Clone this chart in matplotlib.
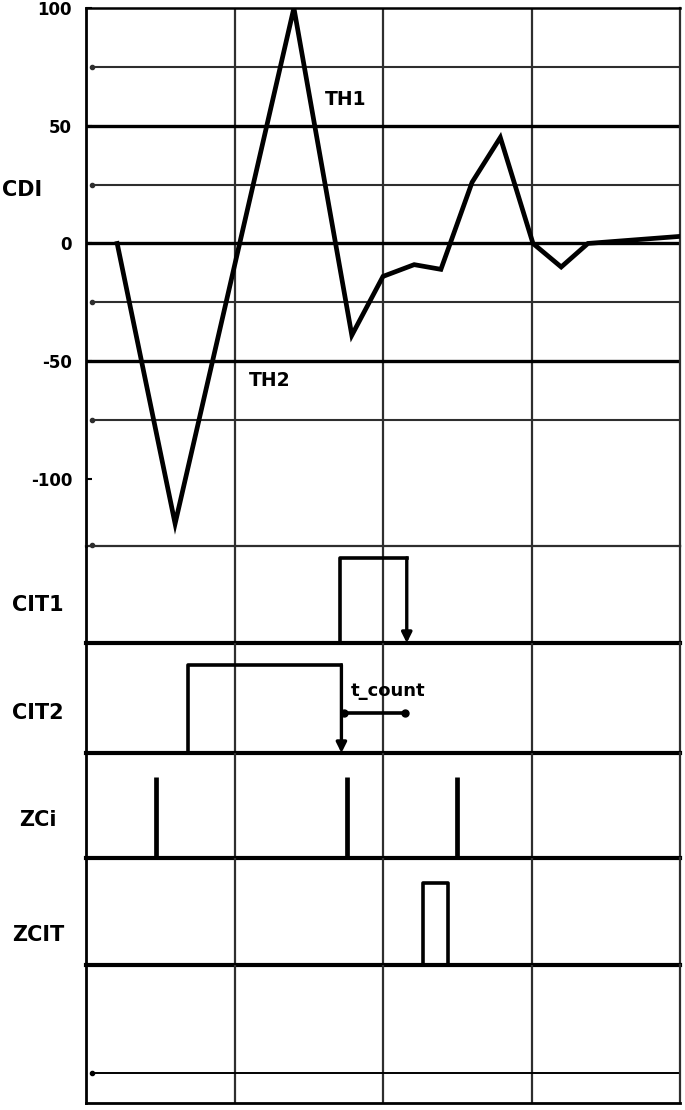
import matplotlib
matplotlib.use('Agg')
import matplotlib.pyplot as plt

# CDI trace (time in grid units, value)
CDI_T = [0.21, 0.60, 1.40, 1.79, 2.00, 2.21, 2.39, 2.60, 2.79, 3.01, 3.20, 3.38, 4.00]
CDI_V = [0, -119, 100, -39, -14, -9, -11, 26, 45, 0, -10, 0, 3]
THIN_LEVELS = [75, 25, -25, -75]
THICK_LEVELS = [50, 0, -50]
Y_TICKS = [100, 50, 0, -50, -100]
Y_LABELS = ['100', '50', '0', '-50', '-100']

# digital signals
CIT1_EDGES = [1.71, 2.16]
CIT2_EDGES = [0.69, 1.72]
T_COUNT = [1.74, 2.15]
ZCI_PULSES = [0.47, 1.76, 2.50]
ZCIT_EDGES = [2.27, 2.44]

ROW_LABELS = ['CIT1', 'CIT2', 'ZCi', 'ZCIT']

W, H = 685, 1110
LEFT, RIGHT = 86, 680
FONT = dict(family='DejaVu Sans', weight='bold')
GRID_C = '#2e2e2e'


def box(top, bottom):
    return [LEFT / W, 1 - bottom / H, (RIGHT - LEFT) / W, (bottom - top) / H]


def frame(ax, ylim, bottom_lw=3.0):
    ax.patch.set_visible(False)
    ax.set_xlim(0, 4)
    ax.set_ylim(*ylim)
    ax.set_xticks([])
    ax.set_yticks([])
    for x in [1, 2, 3]:
        ax.axvline(x, color=GRID_C, lw=1.6, zorder=1)
    ax.spines['left'].set_linewidth(2.0)
    ax.spines['right'].set_linewidth(1.6)
    ax.spines['right'].set_color(GRID_C)
    ax.spines['top'].set_visible(False)
    ax.spines['bottom'].set_linewidth(bottom_lw)


fig = plt.figure(figsize=(W / 100, H / 100), dpi=100)

# top: CDI
ax0 = fig.add_axes(box(8, 546))
frame(ax0, (-128.5, 100), bottom_lw=1.6)
ax0.spines['top'].set_visible(True)
ax0.spines['top'].set_linewidth(1.8)
ax0.spines['bottom'].set_color(GRID_C)
for lv in THIN_LEVELS:
    ax0.plot([0.04, 4], [lv, lv], color=GRID_C, lw=1.5, zorder=1)
    ax0.plot([0.04], [lv], 'o', color=GRID_C, ms=3, zorder=1)
ax0.plot([0.04], [-128], 'o', color=GRID_C, ms=3, clip_on=False)
for lv in THICK_LEVELS:
    ax0.axhline(lv, color='black', lw=2.4, zorder=1)
ax0.plot(CDI_T, CDI_V, color='black', lw=3.4, zorder=3, solid_joinstyle='miter')
ax0.set_yticks(Y_TICKS)
ax0.set_yticklabels(Y_LABELS, **FONT, fontsize=12)
ax0.tick_params(axis='y', direction='in', length=4, width=1.5, pad=10)
ax0.text(1.745, 61, 'TH1', ha='center', va='center', fontsize=13.5, **FONT)
ax0.text(1.24, -58, 'TH2', ha='center', va='center', fontsize=13.5, **FONT)
fig.text(22 / W, 1 - 190 / H, 'CDI', ha='center', va='center', fontsize=15, **FONT)

arrow = dict(arrowstyle='-|>', lw=2.4, color='black', mutation_scale=15,
             shrinkA=0, shrinkB=0)

# CIT1
ax1 = fig.add_axes(box(546, 643))
frame(ax1, (0, 1.14))
r, f = CIT1_EDGES
ax1.plot([r, r, f], [0, 1, 1], color='black', lw=2.6, zorder=3)
ax1.annotate('', xy=(f, 0.0), xytext=(f, 1), arrowprops=arrow)

# CIT2
ax2 = fig.add_axes(box(643, 753))
frame(ax2, (0, 1.25))
r, f = CIT2_EDGES
ax2.plot([r, r, f], [0, 1, 1], color='black', lw=2.6, zorder=3)
ax2.annotate('', xy=(f, 0.0), xytext=(f, 1), arrowprops=arrow)
ax2.plot(T_COUNT, [0.455, 0.455], color='black', lw=2.6, marker='o', ms=5, zorder=3)
ax2.text(1.78, 0.60, 't_count', ha='left', va='bottom', fontsize=13, **FONT)

# ZCi
ax3 = fig.add_axes(box(753, 858))
frame(ax3, (0, 1.3))
ax3.vlines(ZCI_PULSES, 0, 1, color='black', lw=3.4, zorder=3)

# ZCIT
ax4 = fig.add_axes(box(858, 965))
frame(ax4, (0, 1.3))
r, f = ZCIT_EDGES
ax4.plot([r, r, f, f], [0, 1, 1, 0], color='black', lw=2.6, zorder=3)

# empty bottom panel
ax5 = fig.add_axes(box(965, 1103))
frame(ax5, (0, 1), bottom_lw=2.0)
ax5.plot([0.04, 4], [0.217, 0.217], color='black', lw=1.4, zorder=1)
ax5.plot([0.04], [0.217], 'o', color='black', ms=3)

for name, y in zip(ROW_LABELS, [605, 713, 820, 935]):
    fig.text(38 / W, 1 - y / H, name, ha='center', va='center', fontsize=15, **FONT)

fig.savefig('out.png', dpi=100)
